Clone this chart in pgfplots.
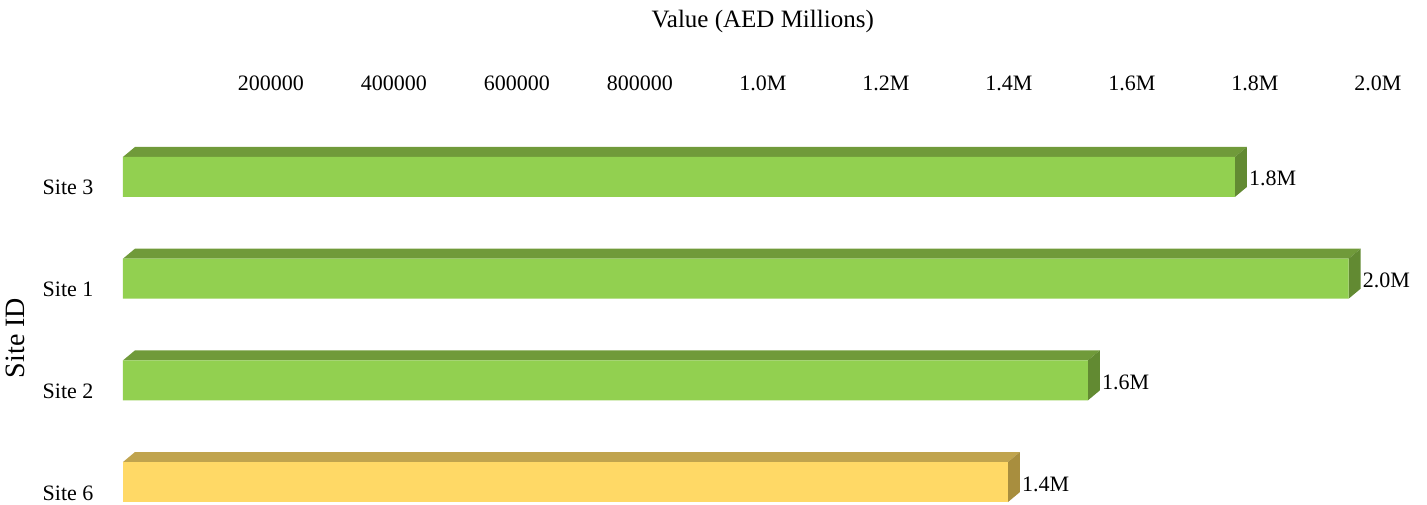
\documentclass[border=0pt]{standalone}
\usepackage{fontspec}
\setmainfont{Liberation Serif}
\usepackage{pgfplots}
\pgfplotsset{compat=1.18}
\definecolor{gfront}{RGB}{146,208,80}
\definecolor{gtop}{RGB}{112,154,58}
\definecolor{gside}{RGB}{98,138,50}
\definecolor{yfront}{RGB}{255,217,102}
\definecolor{ytop}{RGB}{192,164,78}
\definecolor{yside}{RGB}{168,142,62}
\begin{document}
\begin{tikzpicture}
\begin{axis}[
  at={(0pt,0pt)}, anchor=south west,
  scale only axis, width=1291.5pt, height=384pt,
  xmin=0, xmax=2100000, ymin=-0.216, ymax=3.56,
  clip=false,
  axis line style={draw=none}, tick style={draw=none},
  xticklabel pos=upper,
  xtick={200000,400000,600000,800000,1000000,1200000,1400000,1600000,1800000,2000000},
  xticklabels={200000,400000,600000,800000,1.0M,1.2M,1.4M,1.6M,1.8M,2.0M},
  scaled x ticks=false,
  xticklabel style={anchor=base, xshift=25pt, yshift=29pt, font=\fontsize{22}{26}\selectfont},
  ytick={0,1,2,3},
  yticklabels={Site 6,Site 2,Site 1,Site 3},
  yticklabel style={anchor=base east, xshift=-26pt, yshift=-18pt, font=\fontsize{22}{26}\selectfont},
  xlabel={Value (AED Millions)},
  xlabel style={at={(rel axis cs:0.5,1)}, anchor=base, xshift=-6pt, yshift=92pt, font=\fontsize{25}{30}\selectfont},
  ylabel={Site ID},
  ylabel style={at={(axis cs:-159350,1.416)}, anchor=base, rotate=0, font=\fontsize{28}{33}\selectfont},
]
% top faces
\addplot[fill=gtop, draw=none] coordinates {(0,3.1967) (1808000,3.1967) (1827512,3.2950) (19512,3.2950)} -- cycle;
\addplot[fill=gtop, draw=none] coordinates {(0,2.1967) (1993000,2.1967) (2012512,2.2950) (19512,2.2950)} -- cycle;
\addplot[fill=gtop, draw=none] coordinates {(0,1.1967) (1569000,1.1967) (1588512,1.2950) (19512,1.2950)} -- cycle;
\addplot[fill=ytop, draw=none] coordinates {(0,0.1967) (1439000,0.1967) (1458512,0.2950) (19512,0.2950)} -- cycle;
% right faces
\addplot[fill=gside, draw=none] coordinates {(1808000,2.8033) (1808000,3.1967) (1827512,3.2950) (1827512,2.9016)} -- cycle;
\addplot[fill=gside, draw=none] coordinates {(1993000,1.8033) (1993000,2.1967) (2012512,2.2950) (2012512,1.9016)} -- cycle;
\addplot[fill=gside, draw=none] coordinates {(1569000,0.8033) (1569000,1.1967) (1588512,1.2950) (1588512,0.9016)} -- cycle;
\addplot[fill=yside, draw=none] coordinates {(1439000,-0.1967) (1439000,0.1967) (1458512,0.2950) (1458512,-0.0984)} -- cycle;
% front faces
\addplot[xbar, bar width=40pt, bar shift=0pt, fill=gfront, draw=none,
  point meta=explicit symbolic, nodes near coords,
  nodes near coords style={anchor=base west, inner sep=0pt, xshift=14pt, yshift=-9pt, font=\fontsize{22}{26}\selectfont, black}]
  coordinates {(1808000,3) [1.8M] (1993000,2) [2.0M] (1569000,1) [1.6M]};
\addplot[xbar, bar width=40pt, bar shift=0pt, fill=yfront, draw=none,
  point meta=explicit symbolic, nodes near coords,
  nodes near coords style={anchor=base west, inner sep=0pt, xshift=14pt, yshift=-9pt, font=\fontsize{22}{26}\selectfont, black}]
  coordinates {(1439000,0) [1.4M]};
\end{axis}
\pgfresetboundingbox
\useasboundingbox (-123pt,0pt) rectangle (1304pt,504pt);
\end{tikzpicture}
\end{document}
